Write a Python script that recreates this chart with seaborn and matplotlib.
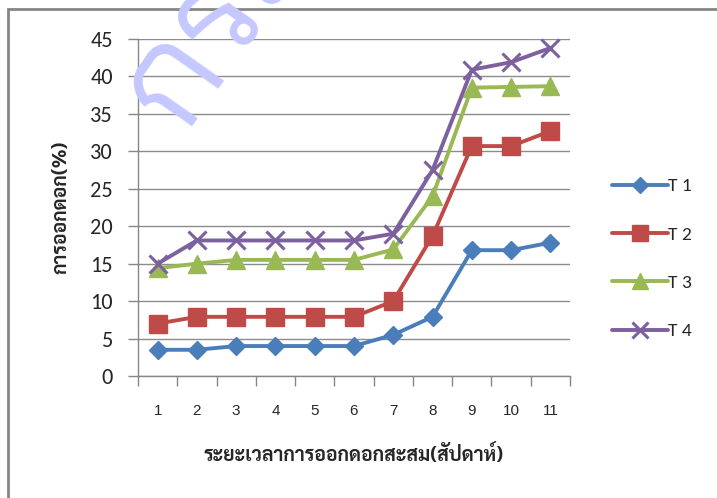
import matplotlib
matplotlib.use("Agg")
import matplotlib.pyplot as plt
import matplotlib.patches as patches
import seaborn as sns
import pandas as pd

# weeks of accumulated flowering
weeks = [1, 2, 3, 4, 5, 6, 7, 8, 9, 10, 11]
t1 = [3.5, 3.5, 4.0, 4.0, 4.0, 4.0, 5.5, 7.9, 16.8, 16.8, 17.8]
t2 = [7.0, 7.9, 7.9, 7.9, 7.9, 7.9, 10.0, 18.7, 30.7, 30.7, 32.7]
t3 = [14.4, 15.0, 15.5, 15.5, 15.5, 15.5, 16.9, 24.0, 38.5, 38.6, 38.7]
t4 = [15.0, 18.1, 18.1, 18.1, 18.1, 18.1, 19.0, 27.5, 40.9, 41.9, 43.8]
series_names = ["T 1", "T 2", "T 3", "T 4"]

df = pd.DataFrame({"week": weeks * 4,
                   "value": t1 + t2 + t3 + t4,
                   "series": sum([[s] * len(weeks) for s in series_names], [])})
df["pos"] = df["week"] - 1

sns.set_style("white")
thai = ["Sarabun", "Noto Sans Thai", "Bai Jamjuree", "DejaVu Sans"]
num = ["Carlito", "Liberation Sans", "DejaVu Sans"]
plt.rcParams["font.family"] = num

colors = {"T 1": "#4A7EBB", "T 2": "#BE4B48", "T 3": "#98B954", "T 4": "#7D60A0"}
markers = {"T 1": "D", "T 2": "s", "T 3": "^", "T 4": "x"}
msize = {"T 1": 9.5, "T 2": 13.5, "T 3": 13.5, "T 4": 12.5}

fig = plt.figure(figsize=(7.17, 4.98), dpi=100)
ax = fig.add_axes([138 / 717, 1 - 376 / 498, 432 / 717, 337 / 498])

for s in series_names:
    sub = df[df["series"] == s]
    sns.lineplot(data=sub, x="pos", y="value", color=colors[s],
                 marker=markers[s], markersize=msize[s],
                 markeredgecolor=colors[s],
                 markeredgewidth=2.2 if s == "T 4" else 1,
                 linewidth=2.8, ax=ax, clip_on=False)

ax.set_xlim(-0.5, 10.5)
ax.set_ylim(0, 45)
ax.set_yticks(range(0, 46, 5))
ax.set_xticks([p - 0.5 for p in range(12)], minor=False)
ax.set_xticklabels([])
ax.set_xticks(range(11), minor=True)
ax.set_xticklabels([str(w) for w in weeks], minor=True,
                   fontsize=11, family=["Liberation Sans", "DejaVu Sans"])
ax.tick_params(axis="x", which="minor", length=0, pad=20)
ax.tick_params(axis="x", which="major", length=7, width=1, color="#868686",
               direction="out", bottom=True)
ax.tick_params(axis="y", length=7, width=1, color="#868686", labelsize=16,
               pad=11, left=True)
ax.grid(axis="y", color="#8c8c8c", linewidth=1)
ax.set_axisbelow(True)
for side in ["top", "right"]:
    ax.spines[side].set_visible(False)
for side in ["left", "bottom"]:
    ax.spines[side].set_color("#868686")
    ax.spines[side].set_linewidth(1)

ax.set_xlabel("ระยะเวลาการออกดอกสะสม(สัปดาห์)", family=thai,
              fontsize=14, fontweight="bold", labelpad=19)
ax.set_ylabel("การออกดอก(%)", family=thai, fontsize=14,
              fontweight="bold", labelpad=14)

handles = [plt.Line2D([], [], color=colors[s], marker=markers[s],
                      markersize=msize[s] * 0.9, linewidth=2.8,
                      markeredgewidth=2.2 if s == "T 4" else 1)
           for s in series_names]
fig.legend(handles, series_names, loc="upper left",
           bbox_to_anchor=(604 / 717, 1 - 170 / 498), frameon=False,
           fontsize=14, handlelength=2.9, handletextpad=0.0,
           labelspacing=1.63, borderaxespad=0)

# outer chart border
fig.patches.append(patches.Rectangle((8 / 717, -0.05), 1.1, 1 - 9 / 498 + 0.05,
                                     transform=fig.transFigure, fill=False,
                                     edgecolor="#858585", linewidth=2))

# watermark
fig.text(0.252, 0.728, "กรม", family=["Bai Jamjuree", "DejaVu Sans"],
         fontsize=100, color="#c5c8ff", rotation=55, rotation_mode="anchor",
         ha="left", va="baseline", zorder=10)

fig.savefig("out.png", dpi=100)
